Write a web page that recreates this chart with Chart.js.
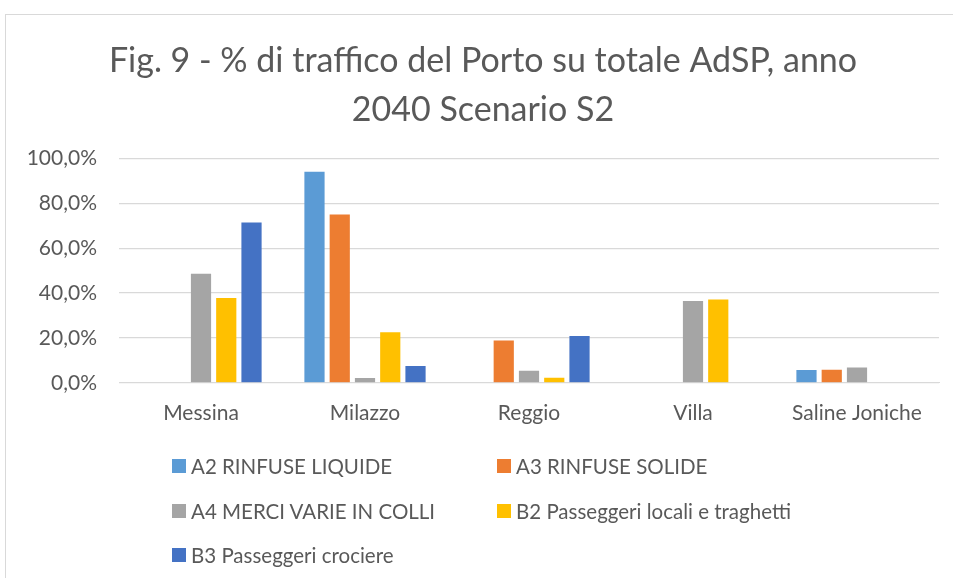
<!DOCTYPE html>
<html>
<head>
<meta charset="utf-8">
<script src="https://cdn.jsdelivr.net/npm/chart.js@4/dist/chart.umd.min.js"></script>
<style>
    body { margin: 0; background: #fff; font-family: Lato, sans-serif; }
    #frame {
        position: absolute; left: 5px; top: 14px; width: 960px; height: 600px;
        border: 1px solid #d9d9d9; box-sizing: border-box;
    }
    #wrap { position: absolute; left: 5px; top: 14px; width: 948px; height: 430px; }
    #legend { position: absolute; left: 0; top: 0; width: 953px; height: 578px; pointer-events: none; }
    .item { position: absolute; display: flex; align-items: center; color: #595959; font-size: 20.5px; white-space: nowrap; transform: translateY(-50%); }
    .box { width: 14px; height: 14px; margin-right: 5px; }
</style>
</head>
<body>
<div id="frame"></div>
<div id="wrap"><canvas id="chart"></canvas></div>
<div id="legend"></div>
<script>
// --- Data ---
const ports = ['Messina', 'Milazzo', 'Reggio', 'Villa', 'Saline Joniche'];
const seriesNames = [
    'A2 RINFUSE LIQUIDE',
    'A3 RINFUSE SOLIDE',
    'A4 MERCI VARIE IN COLLI',
    'B2 Passeggeri locali e traghetti',
    'B3 Passeggeri crociere'
];
const a2Liquide = [0, 94.1, 0, 0, 5.7];
const a3Solide = [0, 75.1, 18.9, 0, 5.8];
const a4Colli = [48.6, 2.1, 5.4, 36.5, 6.8];
const b2Traghetti = [37.8, 22.5, 2.2, 37.2, 0];
const b3Crociere = [71.5, 7.5, 20.9, 0, 0];
const yTicks = [0, 20, 40, 60, 80, 100];

const colors = ['#5B9BD5', '#ED7D31', '#A5A5A5', '#FFC000', '#4472C4'];
const allValues = [a2Liquide, a3Solide, a4Colli, b2Traghetti, b3Crociere];

const textColor = '#595959';
const gridColor = '#d9d9d9';

const datasets = allValues.map((vals, i) => ({
    label: seriesNames[i],
    data: vals,
    backgroundColor: colors[i],
    borderWidth: 0,
    categoryPercentage: 0.77,
    barPercentage: 0.8
}));

const chart = new Chart(document.getElementById('chart').getContext('2d'), {
    type: 'bar',
    data: { labels: ports, datasets: datasets },
    options: {
        responsive: true,
        maintainAspectRatio: false,
        animation: false,
        layout: { padding: { left: 22, right: 14, top: 0, bottom: 0 } },
        plugins: {
            legend: { display: false },
            tooltip: { enabled: false },
            title: {
                display: true,
                text: ['Fig. 9 - % di traffico del Porto su totale AdSP, anno', '2040 Scenario S2'],
                color: textColor,
                font: { family: 'Lato', size: 34, weight: 'normal', lineHeight: 1.45 },
                padding: { top: 22, bottom: 24 }
            }
        },
        scales: {
            x: {
                grid: { display: false, drawTicks: false },
                border: { display: true, color: gridColor, width: 1 },
                ticks: { color: textColor, font: { family: 'Lato', size: 21 }, padding: 18 }
            },
            y: {
                min: 0,
                max: 100,
                afterBuildTicks: axis => { axis.ticks = yTicks.map(v => ({ value: v })); },
                afterFit: axis => { axis.width = 92; },
                grid: { color: gridColor, lineWidth: 1.3, drawTicks: false },
                border: { display: false },
                ticks: {
                    color: textColor,
                    font: { family: 'Lato', size: 21 },
                    padding: 22,
                    callback: v => v.toFixed(1).replace('.', ',') + '%'
                }
            }
        }
    }
});

// --- Legend in two columns, like the original ---
const legendEl = document.getElementById('legend');
const colX = [172, 497];
const rowY = [466, 511, 555];
chart.data.datasets.forEach((ds, i) => {
    const item = document.createElement('div');
    item.className = 'item';
    item.style.left = colX[i % 2] + 'px';
    item.style.top = rowY[Math.floor(i / 2)] + 'px';
    item.innerHTML = `<span class="box" style="background:${ds.backgroundColor}"></span><span>${ds.label}</span>`;
    legendEl.appendChild(item);
});
</script>
</body>
</html>
